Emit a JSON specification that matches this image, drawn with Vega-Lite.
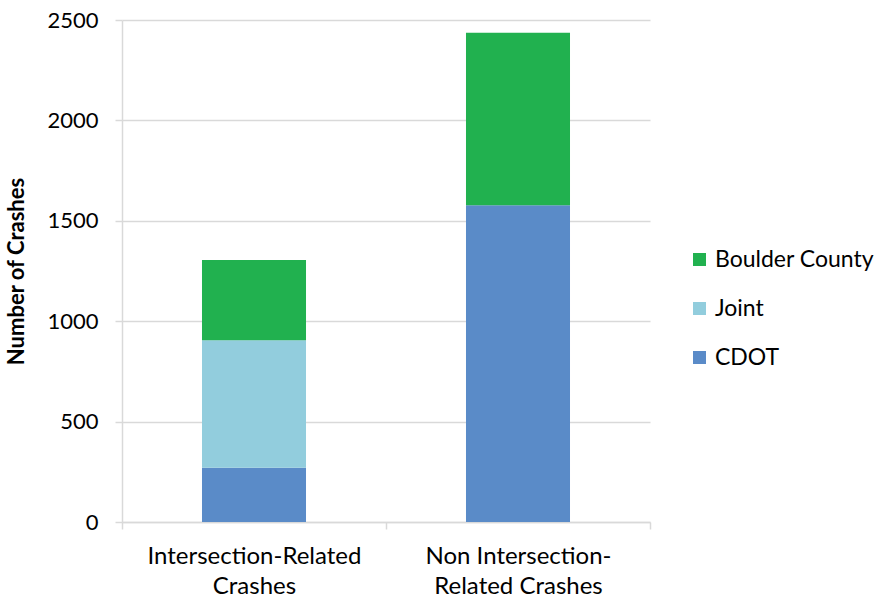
{
  "$schema": "https://vega.github.io/schema/vega-lite/v6.json",
  "width": 528,
  "height": 502,
  "autosize": {"type": "none"},
  "padding": {"left": 122, "top": 20, "right": 233, "bottom": 81},
  "background": "white",
  "config": {
    "font": "Lato",
    "view": {"stroke": null},
    "axis": {"labelFont": "Lato", "titleFont": "Lato", "labelColor": "#000000", "titleColor": "#000000"}
  },
  "data": {
    "values": [
      {"category": "Intersection-Related Crashes", "series": "CDOT", "crashes": 270},
      {"category": "Intersection-Related Crashes", "series": "Joint", "crashes": 635},
      {"category": "Intersection-Related Crashes", "series": "Boulder County", "crashes": 400},
      {"category": "Non Intersection-Related Crashes", "series": "CDOT", "crashes": 1577},
      {"category": "Non Intersection-Related Crashes", "series": "Boulder County", "crashes": 859}
    ]
  },
  "transform": [
    {"calculate": "indexof(['CDOT','Joint','Boulder County'], datum.series)", "as": "stackOrder"}
  ],
  "mark": {"type": "bar", "width": {"band": 0.394}},
  "encoding": {
    "x": {
      "field": "category",
      "type": "nominal",
      "sort": ["Intersection-Related Crashes", "Non Intersection-Related Crashes"],
      "scale": {"paddingInner": 0, "paddingOuter": 0},
      "axis": {
        "title": null,
        "labelAngle": 0,
        "labelFontSize": 24,
        "labelLineHeight": 30,
        "labelPadding": 15,
        "labelBaseline": "top",
        "labelLimit": 0,
        "labelExpr": "datum.value == 'Intersection-Related Crashes' ? ['Intersection-Related', 'Crashes'] : datum.value == 'Non Intersection-Related Crashes' ? ['Non Intersection-', 'Related Crashes'] : ''",
        "domainColor": "#D9D9D9",
        "domainWidth": 1.5,
        "tickBand": "extent",
        "tickColor": "#D9D9D9",
        "tickWidth": 1.5,
        "tickSize": 7
      }
    },
    "y": {
      "field": "crashes",
      "type": "quantitative",
      "aggregate": "sum",
      "stack": "zero",
      "scale": {"domain": [0, 2500]},
      "axis": {
        "title": "Number of Crashes",
        "titleFontSize": 22,
        "titleFontWeight": "bold",
        "titleX": -94,
        "labelFontSize": 22,
        "labelPadding": 17,
        "format": "d",
        "values": [0, 500, 1000, 1500, 2000, 2500],
        "gridColor": "#D9D9D9",
        "gridWidth": 1.5,
        "domainColor": "#D9D9D9",
        "domainWidth": 1.5,
        "tickColor": "#D9D9D9",
        "tickWidth": 1.5,
        "tickSize": 7
      }
    },
    "color": {
      "field": "series",
      "type": "nominal",
      "scale": {
        "domain": ["Boulder County", "Joint", "CDOT"],
        "range": ["#21B14F", "#92CDDD", "#5A8BC8"]
      },
      "legend": {
        "title": null,
        "orient": "none",
        "legendX": 566,
        "legendY": 228,
        "symbolType": "square",
        "symbolSize": 169,
        "symbolStrokeWidth": 0,
        "labelFontSize": 23,
        "labelFont": "Lato",
        "labelColor": "#000000",
        "labelLimit": 0,
        "rowPadding": 25,
        "labelOffset": 4
      }
    },
    "order": {"field": "stackOrder", "type": "quantitative", "sort": "ascending"}
  }
}
